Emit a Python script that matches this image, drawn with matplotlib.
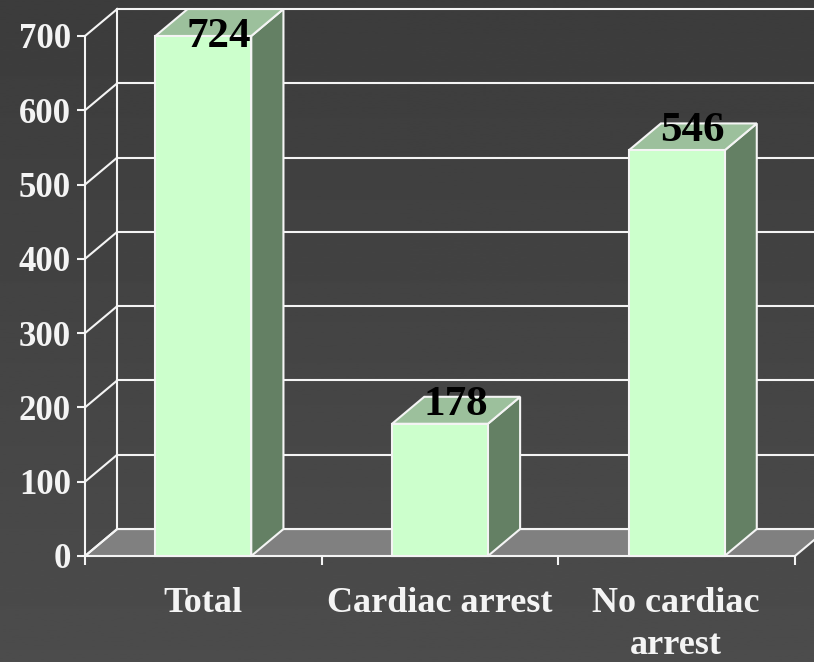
import numpy as np
import matplotlib
matplotlib.use("Agg")
import matplotlib.pyplot as plt
from matplotlib.patches import Polygon

categories = ["Total", "Cardiac arrest", "No cardiac\narrest"]
values = [724, 178, 546]
yticks = [0, 100, 200, 300, 400, 500, 600, 700]

YMAX = 700
BAR_W = 0.405
# 3d look, depth of the box in data units
DX = 0.136
DY = 36.3

FRONT = "#ccffcc"
TOP = "#9cc09c"
SIDE = "#648064"
FLOOR = "#808080"
LINE = "#f4f4f4"

plt.rcParams["font.family"] = ["Liberation Serif", "DejaVu Serif"]
plt.rcParams["font.weight"] = "bold"


def poly(ax, pts, color, z):
    ax.add_patch(Polygon(pts, closed=True, facecolor=color, edgecolor=LINE,
                         lw=1.5, clip_on=False, zorder=z, joinstyle="miter"))


def main():
    fig = plt.figure(figsize=(8.14, 6.62), dpi=100)

    # background gets slightly lighter going down
    bg = fig.add_axes([0, 0, 1, 1], zorder=0)
    bg.imshow(np.linspace(0.235, 0.298, 256)[:, None], cmap="gray", vmin=0, vmax=1,
              aspect="auto")
    bg.axis("off")

    ax = fig.add_axes([85 / 814, 106 / 662, 710 / 814, 520 / 662], zorder=1)
    ax.patch.set_alpha(0)
    ax.set_xlim(0, len(categories))
    ax.set_ylim(0, YMAX)
    for s in ax.spines.values():
        s.set_visible(False)
    nx = len(categories)

    # floor
    poly(ax, [(0, 0), (nx, 0), (nx + DX, DY), (DX, DY)], FLOOR, 1)

    # back wall grid + left wall diagonals
    for t in yticks:
        ax.plot([0, DX], [t, t + DY], color=LINE, lw=1.5, clip_on=False, zorder=2)
        ax.plot([DX, nx + DX], [t + DY, t + DY], color=LINE, lw=1.5, clip_on=False, zorder=2)
    ax.plot([DX, DX], [DY, YMAX + DY], color=LINE, lw=1.5, clip_on=False, zorder=2)
    ax.plot([0, 0], [0, YMAX], color=LINE, lw=1.5, clip_on=False, zorder=2)

    # bars, the first one runs past the axis and gets cut at the top
    for i, v in enumerate(values):
        h = min(v, YMAX)
        x0 = i + 0.5 - BAR_W / 2
        x1 = i + 0.5 + BAR_W / 2
        poly(ax, [(x1, 0), (x1 + DX, DY), (x1 + DX, h + DY), (x1, h)], SIDE, 3)
        poly(ax, [(x0, h), (x1, h), (x1 + DX, h + DY), (x0 + DX, h + DY)], TOP, 3)
        poly(ax, [(x0, 0), (x1, 0), (x1, h), (x0, h)], FRONT, 4)

    label_dy = [-8, 6, 7]
    for i, v in enumerate(values):
        ax.annotate(str(v), (i + 0.5, min(v, YMAX)), xytext=(11, label_dy[i]),
                    textcoords="offset points", ha="center", va="baseline",
                    fontsize=31, fontweight="bold", color="black",
                    annotation_clip=False, zorder=5)

    ax.set_yticks(yticks)
    ax.set_xticks(range(nx + 1))
    ax.set_xticklabels([])
    ax.tick_params(axis="y", length=6, width=1.5, color=LINE, labelcolor="#f4f4f4",
                   labelsize=25, pad=4)
    ax.tick_params(axis="x", length=6.5, width=1.5, color=LINE)

    for i, c in enumerate(categories):
        ax.annotate(c, (i + 0.5, 0), xytext=(-0.5, -22), textcoords="offset points",
                    ha="center", va="top", fontsize=26, fontweight="bold",
                    color="#f4f4f4", linespacing=1.36, annotation_clip=False)

    fig.savefig("out.png", dpi=100)


if __name__ == "__main__":
    main()
